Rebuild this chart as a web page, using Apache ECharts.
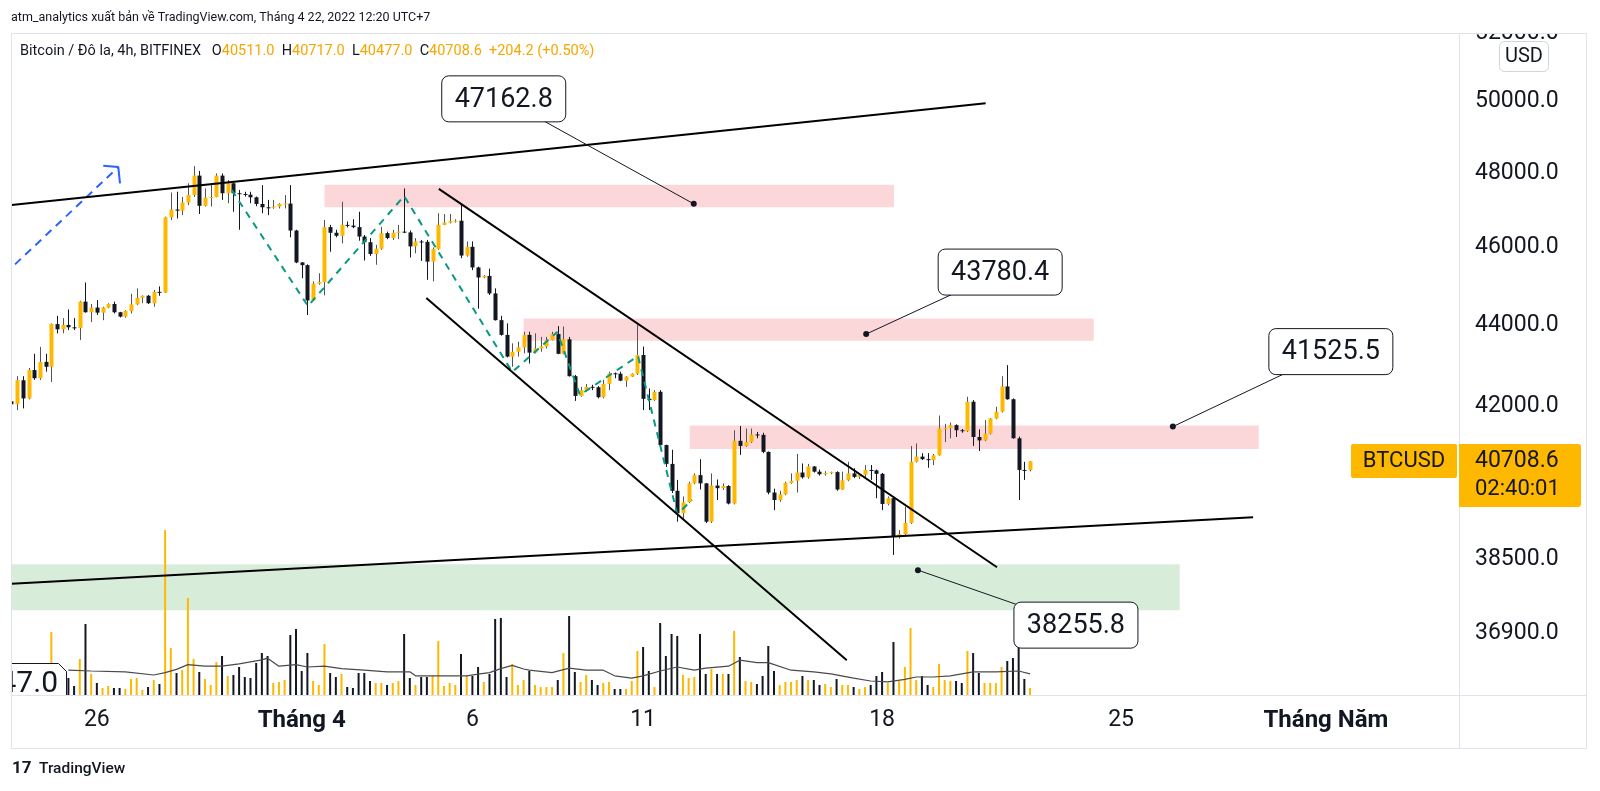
<!DOCTYPE html>
<html>
<head>
<meta charset="utf-8">
<title>BTCUSD 4h</title>
<script src="https://cdn.jsdelivr.net/npm/echarts@6.0.0/dist/echarts.min.js"></script>
<style>
  html, body { margin: 0; padding: 0; background: #fff; }
  #main { width: 1600px; height: 791px; }
</style>
</head>
<body>
<div id="main"></div>
<script>
// BTCUSD 4h, BITFINEX (gio UTC+7)
const startTime = '2022-03-23T15:00';
const barHours = 4;

const openP = [
  42130, 42060, 42640, 42200, 42890, 42690, 43090, 42970, 44030, 43900,
  44010, 43950, 43930, 44600, 44330, 44450, 44320, 44450, 44540, 44330,
  44220, 44360, 44530, 44700, 44750, 44560, 44850, 44830, 46800, 47010,
  46980, 47200, 47400, 47930, 47110, 47330, 47350, 47930, 47450, 47720,
  47450, 47430, 47410, 47340, 47160, 47070, 47060, 47090, 47160, 47170,
  46450, 45610, 45540, 44630, 45060, 45100, 46540, 46390, 46310, 46600,
  46580, 46540, 46290, 46140, 45830, 45970, 46380, 46250, 46390, 46420,
  46400, 46030, 46160, 46150, 45630, 45960, 46600, 46660, 46700, 46710,
  45790, 46020, 45480, 45220, 45260, 44810, 44130, 43760, 43220, 43340,
  43450, 43760, 43320, 43420, 43470, 43630, 43780, 43290, 43650, 42740,
  42260, 42400, 42480, 42470, 42230, 42550, 42810, 42800, 42630, 42730,
  42800, 43260, 42190, 42160, 42360, 41090, 40650, 40030, 39520, 39770,
  40200, 40390, 40200, 39330, 40150, 40090, 40140, 39740, 41190, 41070,
  41160, 41340, 41330, 40930, 39990, 39820, 39950, 40210, 40260, 40450,
  40340, 40590, 40470, 40410, 40440, 40460, 40060, 40270, 40430, 40350,
  40400, 40510, 40500, 40420, 39730, 39860, 38990, 39050, 39300, 40700,
  40820, 40760, 40740, 40850, 41480, 41490, 41560, 41440, 41420, 42120,
  41280, 41200, 41360, 41720, 41880, 42490, 42180, 41250, 40510, 40511
];
const highP = [
  42200, 42740, 42740, 42940, 43290, 43460, 43290, 44050, 44240, 44180,
  44400, 44180, 44620, 45090, 44540, 44640, 44470, 44560, 44600, 44340,
  44380, 44800, 44940, 44760, 44770, 44900, 44990, 46820, 47470, 47490,
  47350, 47720, 48190, 48060, 47580, 47720, 47990, 47990, 47810, 47740,
  47540, 47490, 47490, 47360, 47670, 47270, 47270, 47180, 47400, 47670,
  46470, 45620, 45560, 45120, 45330, 46730, 46600, 46470, 47220, 46690,
  46750, 46950, 46330, 46250, 46070, 46550, 46420, 46470, 46600, 47580,
  46450, 46250, 46200, 46200, 46000, 46910, 46890, 46890, 46750, 47160,
  46160, 46160, 45500, 45280, 45450, 44940, 44240, 44050, 43550, 43590,
  43840, 43840, 43800, 43710, 43710, 43840, 43980, 43970, 43710, 42770,
  42480, 42550, 42530, 42500, 42650, 42850, 42830, 42850, 42740, 42810,
  44010, 43470, 42440, 42400, 42400, 41100, 40980, 40280, 39900, 40240,
  40430, 40760, 40210, 40430, 40290, 40200, 40160, 41440, 41540, 41480,
  41480, 41400, 41380, 40940, 40080, 40030, 40240, 40430, 40880, 40660,
  40650, 40600, 40520, 40480, 40470, 40480, 40470, 40700, 40550, 40420,
  40625, 40625, 40520, 40440, 39900, 39895, 39140, 39670, 41070, 41130,
  40900, 40900, 40880, 41790, 41590, 41620, 41580, 41470, 42240, 42160,
  41460, 41680, 41730, 42000, 42740, 43010, 42200, 41290, 40700, 40717
];
const lowP = [
  42020, 41920, 41960, 42180, 42650, 42650, 42850, 42600, 43800, 43800,
  43880, 43880, 43630, 44320, 44080, 44260, 44130, 44430, 44300, 44200,
  44190, 44300, 44510, 44560, 44540, 44470, 44750, 44820, 46730, 46770,
  46860, 47130, 47350, 46890, 47090, 47090, 47340, 47270, 47180, 46950,
  46470, 47360, 47180, 47100, 46910, 46860, 47030, 47040, 47040, 46270,
  45590, 45200, 44260, 44610, 45030, 44760, 45890, 46270, 46110, 46530,
  46510, 46180, 45660, 45780, 45550, 45940, 46220, 46200, 46220, 46380,
  45740, 45850, 45650, 45160, 45120, 45940, 46590, 46640, 46660, 45720,
  45760, 45410, 44420, 45200, 44770, 44120, 43740, 43200, 42970, 43220,
  43300, 43050, 43300, 43340, 43420, 43620, 43280, 43280, 42730, 42140,
  42240, 42360, 42400, 42200, 42200, 42400, 42690, 42620, 42480, 42720,
  42770, 41920, 41920, 42140, 41070, 40580, 39980, 39330, 39370, 39750,
  40180, 40060, 39300, 39300, 39820, 40050, 39720, 39720, 40860, 41050,
  41140, 41250, 40900, 39950, 39590, 39780, 39930, 40190, 39990, 40310,
  40310, 40450, 40380, 40380, 40410, 40030, 40050, 40250, 40320, 40300,
  40330, 40280, 39860, 39590, 39700, 38590, 38950, 39030, 39280, 40680,
  40740, 40560, 40620, 40840, 41160, 41250, 41280, 41380, 41400, 41070,
  40950, 41180, 41340, 41700, 41860, 42170, 41240, 39820, 40280, 40477
];
const closeP = [
  42060, 42640, 42200, 42890, 42690, 43090, 42970, 44030, 43900, 44010,
  43950, 43930, 44600, 44330, 44450, 44320, 44450, 44540, 44330, 44220,
  44360, 44530, 44700, 44750, 44560, 44850, 44830, 46800, 47010, 46980,
  47200, 47400, 47930, 47110, 47330, 47350, 47930, 47450, 47720, 47450,
  47430, 47410, 47340, 47160, 47070, 47060, 47090, 47160, 47170, 46450,
  45610, 45540, 44630, 45060, 45100, 46540, 46390, 46310, 46600, 46580,
  46540, 46290, 46140, 45830, 45970, 46380, 46250, 46390, 46420, 46400,
  46030, 46160, 46150, 45630, 45960, 46600, 46660, 46700, 46710, 45790,
  46020, 45480, 45220, 45260, 44810, 44130, 43760, 43220, 43340, 43450,
  43760, 43320, 43420, 43470, 43630, 43780, 43290, 43650, 42740, 42260,
  42400, 42480, 42470, 42230, 42550, 42810, 42800, 42630, 42730, 42800,
  43260, 42190, 42160, 42360, 41090, 40650, 40030, 39520, 39770, 40200,
  40390, 40200, 39330, 40150, 40090, 40140, 39740, 41190, 41070, 41160,
  41340, 41330, 40930, 39990, 39820, 39950, 40210, 40260, 40450, 40340,
  40590, 40470, 40410, 40440, 40460, 40060, 40270, 40430, 40350, 40400,
  40510, 40500, 40420, 39730, 39860, 38990, 39050, 39300, 40700, 40820,
  40760, 40740, 40850, 41480, 41490, 41560, 41440, 41420, 42120, 41280,
  41200, 41360, 41720, 41880, 42490, 42180, 41250, 40510, 40504.4, 40708.6
];
// khoi luong (BTC)
const volume = [
  350, 275, 400, 300, 475, 375, 250, 1575, 325, 275,
  425, 225, 900, 1775, 525, 300, 175, 225, 175, 175,
  150, 400, 425, 125, 200, 375, 275, 4125, 1175, 550,
  625, 2425, 900, 575, 400, 250, 825, 975, 475, 500,
  700, 450, 425, 800, 1050, 975, 300, 325, 375, 1500,
  1650, 600, 1050, 350, 250, 1275, 550, 450, 525, 200,
  175, 550, 550, 350, 300, 300, 250, 300, 350, 1525,
  425, 250, 450, 450, 475, 1350, 225, 300, 250, 1025,
  475, 475, 700, 325, 525, 1900, 1925, 450, 775, 250,
  375, 600, 250, 200, 200, 200, 375, 1050, 1975, 575,
  325, 500, 375, 250, 300, 325, 150, 150, 150, 350,
  1100, 1200, 600, 200, 1800, 975, 1525, 1475, 500, 425,
  450, 1525, 525, 650, 525, 525, 525, 1600, 950, 350,
  325, 275, 475, 1225, 600, 250, 325, 325, 375, 475,
  375, 375, 250, 275, 200, 400, 250, 250, 200, 150,
  200, 250, 475, 575, 300, 1325, 350, 700, 1675, 375,
  475, 250, 200, 775, 375, 350, 350, 300, 1100, 1050,
  550, 300, 300, 300, 700, 850, 925, 1400, 400, 175
];
// duong trung binh khoi luong: [chi so nen, gia tri]
const volMA = [
  [10, 620], [14, 600], [20, 580], [25, 500], [27, 560], [29, 640], [31, 760],
  [34, 720], [37, 720], [40, 780], [44, 880], [45, 920], [47, 720], [50, 760],
  [52, 700], [55, 720], [58, 660], [62, 620], [66, 580], [70, 580], [71, 480],
  [75, 480], [80, 480], [82, 520], [84, 560], [86, 660], [88, 740], [90, 650],
  [91, 620], [95, 560], [98, 670], [101, 620], [104, 620], [106, 480], [109, 420],
  [111, 480], [114, 600], [117, 700], [120, 620], [122, 670], [126, 720], [128, 870],
  [131, 810], [133, 810], [137, 620], [141, 580], [144, 530], [148, 420], [151, 350],
  [154, 330], [157, 390], [159, 450], [162, 450], [165, 480], [169, 580], [173, 580],
  [177, 600], [179, 530]
];

// truc
const yTicks = [36900, 38500, 42000, 44000, 46000, 48000, 50000, 52000];
const xTickDates = ['2022-03-26T03:00', '2022-04-01T03:00', '2022-04-06T03:00', '2022-04-11T03:00',
                    '2022-04-18T03:00', '2022-04-25T03:00', '2022-05-01T03:00'];
const xTickText = ['26', 'Tháng 4', '6', '11', '18', '25', 'Tháng Năm'];
const xTickBold = [false, true, false, false, false, false, true];

// ban ve: [chi so nen, gia]
const trendLines = [
  [[0, 47129], [171.2, 49957]],
  [[0, 37960], [218.2, 39428]],
  [[75.1, 47570], [173.2, 38318]],
  [[72.9, 44691], [146.8, 36336]]
];
const zigzag = [[38.7, 47536], [52.1, 44488], [69.0, 47374], [88.0, 42841], [95.9, 43832],
                [99.9, 42282], [110.1, 43234], [117.0, 39502], [119.6, 39820]];
const blueLine = [[0.62, 45560], [18.77, 48165]];
const blueHead = [[16.13, 48201], [18.77, 48165], [19.07, 47719]];
const redZones = [
  [[55.0, 47681], [155.1, 47074]],
  [[90.0, 44173], [190.2, 43612]],
  [[119.2, 41551], [219.2, 40997]]
];
const greenZone = [[-2, 38383], [205.3, 37389]];
const callouts = [
  { at: [119.9, 47162.8], off: [-190, -105] },
  { at: [150.2, 43780.4], off: [134, -62] },
  { at: [204.1, 41525.5], off: [158, -75] },
  { at: [159.3, 38255.8], off: [158, 55] }
];

const UP = '#ffb800';
const DOWN = '#131722';
const WICK_UP = '#555555';
const TEXT = '#131722';
const BORDER = '#e0e3eb';
const FONT = 'Roboto, "Noto Sans", sans-serif';

const t0 = Date.parse(startTime + ':00Z');
const H = 3600 * 1000;
const barT = k => t0 + k * barHours * H;
const times = openP.map((_, i) => barT(i));
const tickTimes = xTickDates.map(s => Date.parse(s + ':00Z'));

const candleData = times.map((t, i) => [t, openP[i], closeP[i], lowP[i], highP[i]]);
const volData = times.map((t, i) => ({
  value: [t, volume[i]],
  itemStyle: { color: closeP[i] >= openP[i] ? UP : DOWN }
}));
const toTP = pts => pts.map(p => [barT(p[0]), p[1]]);

const chart = echarts.init(document.getElementById('main'), null, { renderer: 'canvas' });

const lineSeries = (pts, color, width, type, extra) => Object.assign({
  type: 'line', data: toTP(pts), symbol: 'none', silent: true, z: 4, clip: true,
  lineStyle: { color: color, width: width, type: type }
}, extra || {});

const series = [
  // vung gia
  {
    type: 'line', data: [], z: 1, silent: true,
    markArea: {
      silent: true, z: 1,
      data: redZones.map(z => [
        { xAxis: barT(z[0][0]), yAxis: z[0][1], itemStyle: { color: 'rgba(242,54,69,0.2)' } },
        { xAxis: barT(z[1][0]), yAxis: z[1][1] }
      ]).concat([[
        { xAxis: barT(greenZone[0][0]), yAxis: greenZone[0][1], itemStyle: { color: 'rgba(76,175,80,0.22)' } },
        { xAxis: barT(greenZone[1][0]), yAxis: greenZone[1][1] }
      ]])
    }
  },
  {
    type: 'bar', data: volData, yAxisIndex: 1, barWidth: 2, z: 2, silent: true
  },
  {
    type: 'line', data: toTP(volMA), yAxisIndex: 1, symbol: 'none', z: 2, silent: true,
    lineStyle: { color: '#4a4a4a', width: 1.2 }
  },
  {
    type: 'custom', data: candleData, z: 3, clip: true, silent: true,
    encode: { x: 0, y: [1, 2, 3, 4] },
    renderItem: function (params, api) {
      const t = api.value(0), o = api.value(1), c = api.value(2), l = api.value(3), h = api.value(4);
      const po = api.coord([t, o]), pc = api.coord([t, c]);
      const pl = api.coord([t, l]), ph = api.coord([t, h]);
      const xr = Math.round(po[0]);
      const up = c >= o;
      const top = Math.min(po[1], pc[1]), bot = Math.max(po[1], pc[1]);
      return {
        type: 'group',
        children: [
          { type: 'line', shape: { x1: xr + 0.5, y1: ph[1], x2: xr + 0.5, y2: pl[1] },
            style: { stroke: up ? WICK_UP : DOWN, lineWidth: 1 } },
          { type: 'rect', shape: { x: xr - 1.5, y: top, width: 4, height: Math.max(1, bot - top) },
            style: { fill: up ? UP : DOWN } }
        ]
      };
    }
  },
  lineSeries(zigzag, '#089981', 2, [7, 6]),
  lineSeries(blueLine, '#2962ff', 2, [8, 6]),
  lineSeries(blueHead, '#2962ff', 2, 'solid')
].concat(trendLines.map(l => lineSeries(l, '#000', 2, 'solid')));

chart.setOption({
  animation: false,
  backgroundColor: '#fff',
  textStyle: { fontFamily: FONT },
  grid: { left: 12, right: 141, top: 33, bottom: 96, outerBoundsMode: 'none' },
  xAxis: {
    type: 'value',
    min: barT(0.088),
    max: barT(0.088 + 254.3),
    axisLine: { show: false },
    axisTick: { show: false },
    splitLine: { show: false },
    axisLabel: {
      customValues: tickTimes,
      margin: 14,
      color: TEXT,
      fontSize: 23,
      fontFamily: FONT,
      formatter: function (v) {
        const k = tickTimes.indexOf(v);
        if (k < 0) return '';
        return xTickBold[k] ? '{b|' + xTickText[k] + '}' : xTickText[k];
      },
      rich: { b: { fontWeight: 'bold', fontSize: 24, color: TEXT, fontFamily: FONT } }
    }
  },
  yAxis: [
    {
      type: 'log', logBase: 10, position: 'right',
      min: 35621, max: 52000,
      axisLine: { show: false },
      axisTick: { show: false },
      splitLine: { show: false },
      axisLabel: {
        customValues: yTicks,
        margin: 16,
        color: TEXT,
        fontSize: 23,
        fontFamily: FONT,
        formatter: v => Number(v).toFixed(1)
      }
    },
    { type: 'value', min: 0, max: 16550, show: false }
  ],
  series: series
});

// nhan, khung, chu thich
function drawOverlay() {
  const px = p => chart.convertToPixel({ xAxisIndex: 0, yAxisIndex: 0 }, [barT(p[0]), p[1]]);
  const g = [];
  const hl = (x1, y1, x2, y2) => g.push({ type: 'line', z: 100, silent: true,
    shape: { x1, y1, x2, y2 }, style: { stroke: BORDER, lineWidth: 1 } });

  // che phan tren nhan 52000
  g.push({ type: 'rect', z: 99, shape: { x: 1460, y: 0, width: 127, height: 33 }, style: { fill: '#fff' } });

  hl(11, 33.5, 1587, 33.5);
  hl(11, 748.5, 1587, 748.5);
  hl(11.5, 33, 11.5, 749);
  hl(1586.5, 33, 1586.5, 749);
  hl(1459.5, 33, 1459.5, 749);
  hl(11, 695.5, 1587, 695.5);

  g.push({ type: 'text', z: 100, x: 11, y: 18,
    style: { text: 'atm_analytics xuất bản về TradingView.com, Tháng 4 22, 2022 12:20 UTC+7',
      fill: TEXT, font: '12.5px ' + FONT, verticalAlign: 'middle' } });

  const n = closeP.length - 1;
  const chg = closeP[n] - closeP[n - 1];
  g.push({ type: 'text', z: 100, x: 20, y: 51,
    style: {
      text: '{d|Bitcoin / Đô la, 4h, BITFINEX   O}{o|' + openP[n].toFixed(1) + '}{d|  H}{o|' + highP[n].toFixed(1) +
        '}{d|  L}{o|' + lowP[n].toFixed(1) + '}{d|  C}{o|' + closeP[n].toFixed(1) + '}{o|  +' + chg.toFixed(1) +
        ' (+' + (chg / closeP[n - 1] * 100).toFixed(2) + '%)}',
      verticalAlign: 'middle',
      rich: {
        d: { fill: TEXT, font: '14.5px ' + FONT },
        o: { fill: '#f7a600', font: '14.5px ' + FONT }
      }
    } });

  // USD
  g.push({ type: 'rect', z: 101, shape: { x: 1499.5, y: 41.5, width: 49, height: 30, r: 5 },
    style: { fill: '#fff', stroke: '#d1d4dc', lineWidth: 1 } });
  g.push({ type: 'text', z: 102, x: 1524, y: 57,
    style: { text: 'USD', fill: TEXT, font: '20px ' + FONT, align: 'center', verticalAlign: 'middle' } });

  // nhan gia hien tai
  const py = px([n, closeP[n]])[1];
  g.push({ type: 'rect', z: 101, shape: { x: 1459, y: py - 17.5, width: 122, height: 63, r: [0, 3, 3, 0] },
    style: { fill: UP } });
  g.push({ type: 'text', z: 102, x: 1475, y: py,
    style: { text: closeP[n].toFixed(1), fill: TEXT, font: '23px ' + FONT, verticalAlign: 'middle' } });
  g.push({ type: 'text', z: 102, x: 1475, y: py + 28.5,
    style: { text: '02:40:01', fill: TEXT, font: '22px ' + FONT, verticalAlign: 'middle' } });
  g.push({ type: 'rect', z: 101, shape: { x: 1351, y: py - 17.5, width: 106, height: 34, r: 2 },
    style: { fill: UP } });
  g.push({ type: 'text', z: 102, x: 1404, y: py,
    style: { text: 'BTCUSD', fill: TEXT, font: '22px ' + FONT, align: 'center', verticalAlign: 'middle' } });

  // chu thich gia
  callouts.forEach(c => {
    const p = px(c.at);
    const bx = p[0] + c.off[0], by = p[1] + c.off[1];
    g.push({ type: 'line', z: 50, shape: { x1: p[0], y1: p[1], x2: bx, y2: by },
      style: { stroke: TEXT, lineWidth: 1 } });
    g.push({ type: 'circle', z: 51, shape: { cx: p[0], cy: p[1], r: 3 }, style: { fill: TEXT } });
    g.push({ type: 'rect', z: 52, shape: { x: bx - 62, y: by - 23, width: 124, height: 46, r: 7 },
      style: { fill: '#fff', stroke: TEXT, lineWidth: 1 } });
    g.push({ type: 'text', z: 53, x: bx, y: by + 1,
      style: { text: c.at[1].toFixed(1), fill: TEXT, font: '27px ' + FONT, align: 'center', verticalAlign: 'middle' } });
  });

  // nhan bi cat o goc trai duoi
  g.push({ type: 'rect', z: 52, shape: { x: -20, y: 663.5, width: 86.5, height: 31.5, r: [0, 8, 0, 0] },
    style: { fill: '#fff' } });
  g.push({ type: 'polyline', z: 53, shape: { points: [[0, 663.5], [58.5, 663.5], [66.5, 671.5], [66.5, 695]] },
    style: { stroke: TEXT, lineWidth: 1, fill: null } });
  g.push({ type: 'text', z: 53, x: 58, y: 684,
    style: { text: '47.0', fill: TEXT, font: '30px ' + FONT, align: 'right', verticalAlign: 'middle' } });
  g.push({ type: 'rect', z: 54, shape: { x: 0, y: 650, width: 11.5, height: 50 }, style: { fill: '#fff' } });

  // logo
  g.push({ type: 'text', z: 100, x: 12, y: 769,
    style: { text: '17', fill: TEXT, font: 'bold 17px ' + FONT, verticalAlign: 'middle' } });
  g.push({ type: 'text', z: 100, x: 39, y: 769,
    style: { text: 'TradingView', fill: TEXT, font: '500 15.5px ' + FONT, verticalAlign: 'middle' } });

  chart.setOption({ graphic: { elements: g } });
}
drawOverlay();
</script>
</body>
</html>
